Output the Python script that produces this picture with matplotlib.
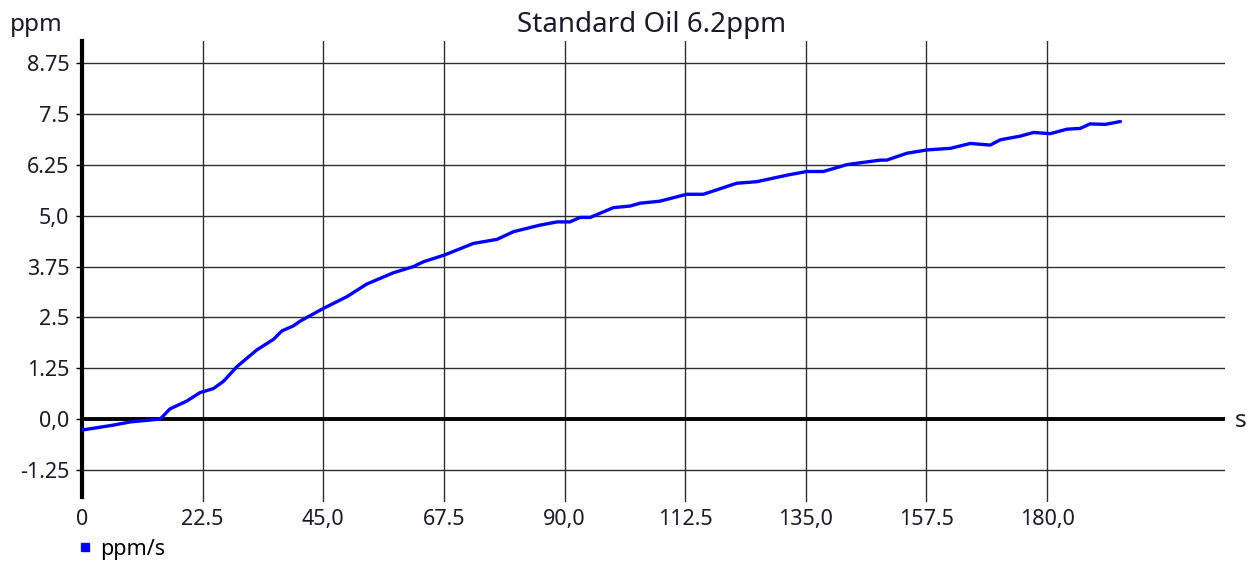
import matplotlib
matplotlib.use("Agg")
import matplotlib.pyplot as plt
from matplotlib.lines import Line2D

plt.rcParams['font.family'] = ['Noto Sans', 'DejaVu Sans']

title = "Standard Oil 6.2ppm"
series_name = "ppm/s"
y_unit = "ppm"
x_unit = "s"

time_s = [0, 5.8, 9, 14.6, 16.4, 19.5, 22, 24.5, 26.4, 28.9, 32.6, 35.7, 37.3, 39.4,
          40.7, 45, 49.4, 53.1, 58.1, 61.8, 63.7, 67.7, 73, 77.4, 80.5, 85.4, 88.6,
          91, 92.9, 94.8, 99.1, 102.2, 104.1, 107.8, 112.8, 115.9, 122.1, 125.9,
          131.5, 135.2, 138.3, 142.7, 148.9, 150.1, 153.9, 157.6, 162, 165.7, 169.4,
          171.3, 175, 177.5, 180.6, 183.7, 186.2, 188, 190.9, 193.7]
ppm = [-0.27, -0.15, -0.07, 0.0, 0.25, 0.44, 0.65, 0.75, 0.93, 1.29, 1.70, 1.96, 2.17,
       2.29, 2.41, 2.72, 3.01, 3.32, 3.60, 3.75, 3.87, 4.04, 4.32, 4.42, 4.61, 4.77,
       4.85, 4.85, 4.96, 4.96, 5.20, 5.24, 5.31, 5.36, 5.53, 5.53, 5.80, 5.84, 6.00,
       6.09, 6.09, 6.26, 6.37, 6.37, 6.54, 6.62, 6.66, 6.78, 6.74, 6.87, 6.96, 7.05,
       7.02, 7.13, 7.15, 7.26, 7.25, 7.32]

x_ticks = [0, 22.5, 45, 67.5, 90, 112.5, 135, 157.5, 180]
x_tick_labels = ["0", "22.5", "45,0", "67.5", "90,0", "112.5", "135,0", "157.5", "180,0"]
y_ticks = [-1.25, 0, 1.25, 2.5, 3.75, 5.0, 6.25, 7.5, 8.75]
y_tick_labels = ["-1.25", "0,0", "1.25", "2.5", "3.75", "5,0", "6.25", "7.5", "8.75"]

fig = plt.figure(figsize=(12.54, 5.66), dpi=100)
ax = fig.add_axes([82/1254, 1-502/566, (1225-82)/1254, (502-41)/566])

ax.set_xlim(0, 213.2)
ax.set_ylim(-2.04, 9.30)

grid_color = "#2e2e2e"
for yt in y_ticks:
    if yt != 0:
        ax.axhline(yt, color=grid_color, lw=1.0, zorder=1)
for xt in x_ticks[1:]:
    ax.axvline(xt, color=grid_color, lw=1.0, zorder=1)
ax.axhline(0, color="black", lw=2.8, zorder=2)

ax.plot(time_s, ppm, color="#0000ff", lw=2.4, zorder=3, solid_capstyle="round")

for s in ["top", "right", "bottom"]:
    ax.spines[s].set_visible(False)
ax.spines["left"].set_linewidth(3.0)
ax.spines["left"].set_color("black")
ax.spines["left"].set_bounds(-1.92, 9.30)

ax.set_xticks(x_ticks)
ax.set_xticklabels(x_tick_labels)
ax.set_yticks(y_ticks)
ax.set_yticklabels(y_tick_labels)
ax.tick_params(axis="x", length=0, pad=5, labelsize=15.5, colors="#1a1a2a")
ax.tick_params(axis="y", length=4, width=1, pad=5, labelsize=15.5, colors="black",
               labelcolor="#1a1a2a")

fig.text(652/1254, 1-25/566, title, ha="center", va="center", fontsize=20, color="#1a1a2a")
fig.text(10/1254, 1-25/566, y_unit, ha="left", va="center", fontsize=17.5, color="#1a1a2a")
fig.text(1235/1254, 1-421/566, x_unit, ha="left", va="center", fontsize=17.5, color="#1a1a2a")

handle = Line2D([], [], marker="s", color="#0000ff", linestyle="none", markersize=6)
fig.legend([handle], [series_name], loc="center left", bbox_to_anchor=(74/1254, 1-549/566),
           frameon=False, fontsize=15.5, handletextpad=0.2, handlelength=1.0,
           borderaxespad=0, borderpad=0)

fig.savefig("out.png", dpi=100)
